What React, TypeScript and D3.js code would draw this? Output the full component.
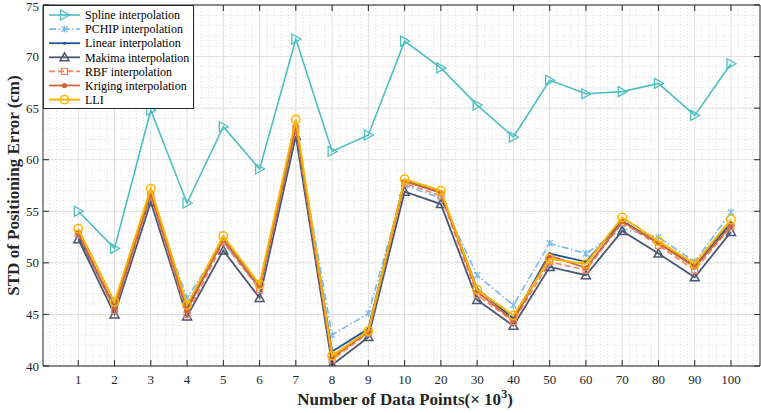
import React from 'react'
import { scaleLinear, line, range } from 'd3'

// x categories (data points, x 10^3)
const categories = ['1', '2', '3', '4', '5', '6', '7', '8', '9', '10', '20', '30', '40', '50', '60', '70', '80', '90', '100']

const splineValues = [55.0, 51.4, 64.8, 55.8, 63.2, 59.1, 71.7, 60.8, 62.4, 71.5, 68.9, 65.3, 62.2, 67.7, 66.4, 66.6, 67.4, 64.3, 69.3]
const pchipValues = [52.8, 45.9, 56.4, 46.6, 52.0, 47.5, 62.9, 43.0, 45.1, 57.5, 56.3, 48.8, 45.9, 51.9, 50.9, 53.3, 52.5, 50.1, 54.9]
const linearValues = [52.6, 45.7, 56.6, 45.6, 52.3, 47.6, 63.2, 41.4, 43.6, 58.0, 56.8, 47.5, 44.6, 50.9, 50.1, 54.1, 51.9, 49.7, 53.9]
const makimaValues = [52.3, 45.0, 55.9, 44.8, 51.2, 46.6, 62.3, 40.1, 42.8, 56.9, 55.7, 46.4, 43.9, 49.6, 48.8, 53.1, 50.9, 48.6, 53.0]
const rbfValues = [52.8, 45.4, 56.5, 45.0, 52.0, 47.4, 63.0, 40.6, 43.2, 57.7, 56.5, 46.9, 44.3, 50.1, 49.3, 53.9, 51.7, 49.3, 53.5]
const krigingValues = [52.9, 45.6, 56.8, 45.4, 52.3, 47.7, 63.3, 40.8, 43.3, 57.9, 56.8, 47.2, 44.4, 50.7, 49.5, 54.0, 51.9, 49.6, 53.6]
const lliValues = [53.3, 46.2, 57.2, 45.9, 52.6, 47.9, 63.9, 41.0, 43.4, 58.1, 57.0, 47.4, 44.9, 50.4, 49.9, 54.4, 52.1, 49.9, 54.2]

const yTicks = [40, 45, 50, 55, 60, 65, 70, 75]

const series = [
  { name: 'Spline interpolation', values: splineValues, color: '#4cbfbf', dash: null, marker: 'triRight', width: 1.6 },
  { name: 'PCHIP interpolation', values: pchipValues, color: '#7db9e8', dash: '7,2.5,1.5,2.5', marker: 'x', width: 1.6 },
  { name: 'Linear interpolation', values: linearValues, color: '#1f5597', dash: null, marker: 'dot', width: 1.8 },
  { name: 'Makima interpolation', values: makimaValues, color: '#4a5673', dash: null, marker: 'triUp', width: 1.8 },
  { name: 'RBF interpolation', values: rbfValues, color: '#f5845c', dash: '6,3', marker: 'square', width: 1.6 },
  { name: 'Kriging interpolation', values: krigingValues, color: '#d2643a', dash: null, marker: 'filled', width: 1.8 },
  { name: 'LLI', values: lliValues, color: '#f8b400', dash: null, marker: 'circle', width: 2 },
]

const W = 761
const H = 413
const left = 43
const right = 760
const top = 5
const bottom = 366

const x = scaleLinear().domain([0, 19.8]).range([left - 1, right])
const y = scaleLinear().domain([40, 75]).range([bottom, top])

const Marker = ({ type, cx, cy, color }) => {
  if (type === 'triRight') {
    return <path d={`M${cx - 4},${cy - 5}L${cx + 5},${cy}L${cx - 4},${cy + 5}Z`} fill="none" stroke={color} strokeWidth={1.3} />
  }
  if (type === 'triUp') {
    return <path d={`M${cx},${cy - 4.5}L${cx + 4.5},${cy + 3.5}L${cx - 4.5},${cy + 3.5}Z`} fill="none" stroke={color} strokeWidth={1.5} />
  }
  if (type === 'x') {
    return <path d={`M${cx - 3},${cy - 3}L${cx + 3},${cy + 3}M${cx - 3},${cy + 3}L${cx + 3},${cy - 3}M${cx},${cy - 3.5}L${cx},${cy + 3.5}`} stroke={color} strokeWidth={1.2} />
  }
  if (type === 'dot') {
    return <circle cx={cx} cy={cy} r={1.5} fill={color} />
  }
  if (type === 'square') {
    return <rect x={cx - 3} y={cy - 3} width={6} height={6} fill="none" stroke={color} strokeWidth={1.3} />
  }
  if (type === 'filled') {
    return <circle cx={cx} cy={cy} r={2.6} fill={color} />
  }
  return <circle cx={cx} cy={cy} r={4.2} fill="none" stroke={color} strokeWidth={1.5} />
}

export default function App() {
  const pathGen = line<number>()
    .x((d, i) => x(i + 1))
    .y(d => y(d))

  const minorX = range(1, 99).map(i => i * 0.2).filter(v => Math.abs(v - Math.round(v)) > 0.01)
  const minorY = range(41, 75).filter(v => v % 5 !== 0)
  const font = '"Liberation Serif", "Times New Roman", serif'

  return (
    <div style={{ position: 'absolute', left: 0, top: 0 }}>
      <svg width={W} height={H} style={{ display: 'block', fontFamily: font }}>
        <rect x={0} y={0} width={W} height={H} fill="#fff" />
        <defs>
          <clipPath id="plotClip">
            <rect x={left} y={top} width={right - left} height={bottom - top} />
          </clipPath>
        </defs>

        {/* minor grid */}
        <g stroke="#c4c4c4" strokeWidth={0.6} strokeDasharray="1,2.2">
          {minorX.map(v => (
            <line key={'mx' + v} x1={x(v)} x2={x(v)} y1={top} y2={bottom} />
          ))}
          {minorY.map(v => (
            <line key={'my' + v} x1={left} x2={right} y1={y(v)} y2={y(v)} />
          ))}
        </g>
        {/* major grid */}
        <g stroke="#dedede" strokeWidth={1}>
          {categories.map((c, i) => (
            <line key={'gx' + c} x1={x(i + 1)} x2={x(i + 1)} y1={top} y2={bottom} />
          ))}
          {yTicks.map(v => (
            <line key={'gy' + v} x1={left} x2={right} y1={y(v)} y2={y(v)} />
          ))}
        </g>

        {/* series */}
        <g clipPath="url(#plotClip)">
          {series.map(s => (
            <g key={s.name}>
              <path d={pathGen(s.values) || ''} fill="none" stroke={s.color} strokeWidth={s.width}
                strokeDasharray={s.dash || undefined} strokeLinejoin="miter" />
              {s.values.map((v, i) => (
                <Marker key={i} type={s.marker} cx={x(i + 1)} cy={y(v)} color={s.color} />
              ))}
            </g>
          ))}
        </g>

        {/* axes box and ticks */}
        <g stroke="#262626" strokeWidth={1}>
          <line x1={left} x2={right} y1={bottom} y2={bottom} />
          <line x1={left} x2={right} y1={top} y2={top} />
          <line x1={left} x2={left} y1={top} y2={bottom} />
          <line x1={right} x2={right} y1={top} y2={bottom} />
          {categories.map((c, i) => (
            <g key={'tx' + c}>
              <line x1={x(i + 1)} x2={x(i + 1)} y1={bottom} y2={bottom - 6} />
              <line x1={x(i + 1)} x2={x(i + 1)} y1={top} y2={top + 6} />
            </g>
          ))}
          {yTicks.map(v => (
            <g key={'ty' + v}>
              <line x1={left} x2={left + 6} y1={y(v)} y2={y(v)} />
              <line x1={right} x2={right - 6} y1={y(v)} y2={y(v)} />
            </g>
          ))}
        </g>

        {/* tick labels */}
        <g fill="#262626" fontSize={13}>
          {categories.map((c, i) => (
            <text key={'lx' + c} x={x(i + 1)} y={bottom + 18} textAnchor="middle">{c}</text>
          ))}
          {yTicks.map(v => (
            <text key={'ly' + v} x={left - 4} y={Math.max(y(v), 6.5)} dy="0.35em" textAnchor="end">{v}</text>
          ))}
        </g>

        {/* axis titles */}
        <text x={405} y={405} textAnchor="middle" fontSize={17} fontWeight="bold" fill="#262626">
          Number of Data Points(× 10<tspan dy={-7} fontSize={12}>3</tspan><tspan dy={7}>)</tspan>
        </text>
        <text transform={`translate(19,${(top + bottom) / 2}) rotate(-90)`} textAnchor="middle" fontSize={17}
          fontWeight="bold" fill="#262626">
          STD of Positioning Error (cm)
        </text>

        {/* legend */}
        <g>
          <rect x={left + 0.5} y={top + 0.5} width={150} height={103} fill="#fff" stroke="#262626" strokeWidth={1} />
          {series.map((s, i) => {
            const ly = 15 + i * 14.1
            return (
              <g key={'lg' + s.name}>
                <line x1={49} x2={80} y1={ly} y2={ly} stroke={s.color} strokeWidth={s.width}
                  strokeDasharray={s.dash || undefined} />
                <Marker type={s.marker} cx={64.5} cy={ly} color={s.color} />
                <text x={85} y={ly} dy="0.35em" fontSize={12} fill="#000">{s.name}</text>
              </g>
            )
          })}
        </g>
      </svg>
    </div>
  )
}
